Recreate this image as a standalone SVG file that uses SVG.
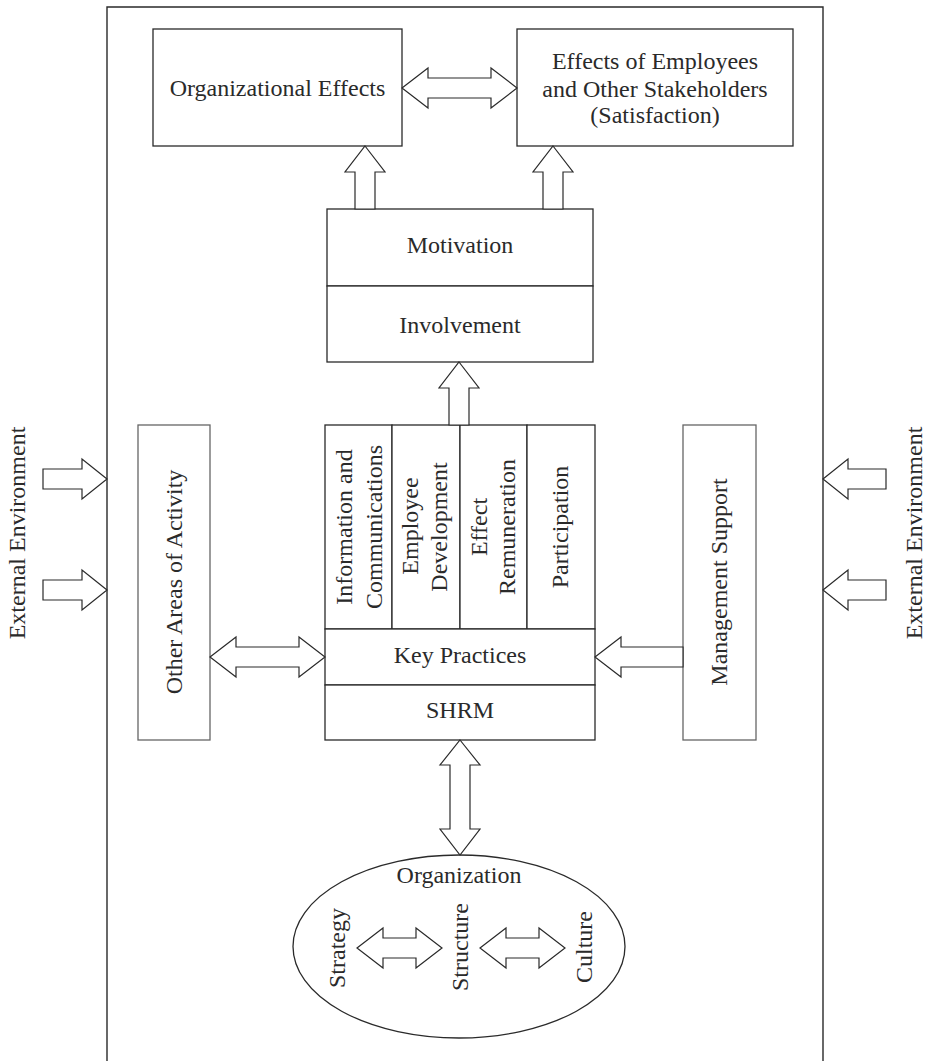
<svg xmlns="http://www.w3.org/2000/svg" width="927" height="1061" viewBox="0 0 927 1061">
<style>
  .b { fill: #fff; stroke: #2a2a2a; stroke-width: 1.3; }
  .g { fill: #fff; stroke: #666; stroke-width: 1.3; }
  .a { fill: #fff; stroke: #2a2a2a; stroke-width: 1.2; stroke-linejoin: miter; }
  text { font-family: "Liberation Serif", "Times New Roman", serif; font-size: 24px; fill: #2a2a2a; text-anchor: middle; }
</style>
<rect width="927" height="1061" fill="#fff"/>
<g id="frame"><path d="M107,1061 V7 H823 V1061" fill="none" stroke="#2a2a2a" stroke-width="1.4"/></g>

<g id="org-effects"><rect class="b" x="153" y="29" width="249" height="117"/><text x="277.5" y="96">Organizational Effects</text></g>
<g id="emp-effects"><rect class="b" x="517" y="29" width="276" height="117"/>
  <text x="655" y="69">Effects of Employees</text><text x="655" y="97">and Other Stakeholders</text><text x="655" y="123">(Satisfaction)</text></g>

<g id="motivation"><rect class="b" x="327" y="209" width="266" height="77"/><text x="460" y="253">Motivation</text></g>
<g id="involvement"><rect class="b" x="327" y="286" width="266" height="76"/><text x="460" y="333">Involvement</text></g>

<g id="col-info"><rect class="b" x="325" y="425" width="67" height="204"/>
  <text transform="translate(352,527) rotate(-90)">Information and</text><text transform="translate(382,527) rotate(-90)">Communications</text></g>
<g id="col-dev"><rect class="b" x="392" y="425" width="68" height="204"/>
  <text transform="translate(418,526) rotate(-90)">Employee</text><text transform="translate(447,527) rotate(-90)">Development</text></g>
<g id="col-rem"><rect class="b" x="460" y="425" width="67" height="204"/>
  <text transform="translate(487,527) rotate(-90)">Effect</text><text transform="translate(515,527) rotate(-90)">Remuneration</text></g>
<g id="col-part"><rect class="b" x="527" y="425" width="68" height="204"/>
  <text transform="translate(568,527) rotate(-90)">Participation</text></g>
<g id="key-practices"><rect class="b" x="325" y="629" width="270" height="56"/><text x="460" y="663">Key Practices</text></g>
<g id="shrm"><rect class="b" x="325" y="685" width="270" height="55"/><text x="460" y="718">SHRM</text></g>

<g id="other-areas"><rect class="g" x="138" y="425" width="72" height="315"/><text transform="translate(182,582) rotate(-90)">Other Areas of Activity</text></g>
<g id="mgmt-support"><rect class="g" x="683" y="425" width="73" height="315"/><text transform="translate(727,582) rotate(-90)">Management Support</text></g>

<g id="ext-env-left"><text transform="translate(25,533) rotate(-90)">External Environment</text></g>
<g id="ext-env-right"><text transform="translate(922,533) rotate(-90)">External Environment</text></g>

<g id="organization"><ellipse class="b" cx="459" cy="946.5" rx="166" ry="91.5"/>
  <text x="459" y="883">Organization</text>
  <text transform="translate(345,948) rotate(-90)">Strategy</text>
  <text transform="translate(468,947) rotate(-90)">Structure</text>
  <text transform="translate(592,947) rotate(-90)">Culture</text></g>

<g id="connectors">
  <polygon class="a" points="402,88 428,68 428,78 491,78 491,68 517,88 491,108 491,98 428,98 428,108"/>
  <polygon class="a" points="365,146 385,172 375,172 375,209 355,209 355,172 345,172"/>
  <polygon class="a" points="553,146 573,172 563,172 563,209 543,209 543,172 533,172"/>
  <polygon class="a" points="459,362 479,388 469,388 469,425 449,425 449,388 439,388"/>
  <polygon class="a" points="210,657 236,637 236,647 299,647 299,637 325,657 299,677 299,667 236,667 236,677"/>
  <polygon class="a" points="595,657 621,637 621,647 683,647 683,667 621,667 621,677"/>
  <polygon class="a" points="107,479 82,459 82,469 43,469 43,489 82,489 82,499"/>
  <polygon class="a" points="107,590 82,570 82,580 43,580 43,600 82,600 82,610"/>
  <polygon class="a" points="823,479 848,459 848,469 886,469 886,489 848,489 848,499"/>
  <polygon class="a" points="823,590 848,570 848,580 886,580 886,600 848,600 848,610"/>
  <polygon class="a" points="460,740 480,765 470,765 470,829 480,829 460,855 440,829 450,829 450,765 440,765"/>
  <polygon class="a" points="357,948 383,928 383,938 416,938 416,928 442,948 416,968 416,958 383,958 383,968"/>
  <polygon class="a" points="480,948 506,928 506,938 539,938 539,928 565,948 539,968 539,958 506,958 506,968"/>
</g>
</svg>
